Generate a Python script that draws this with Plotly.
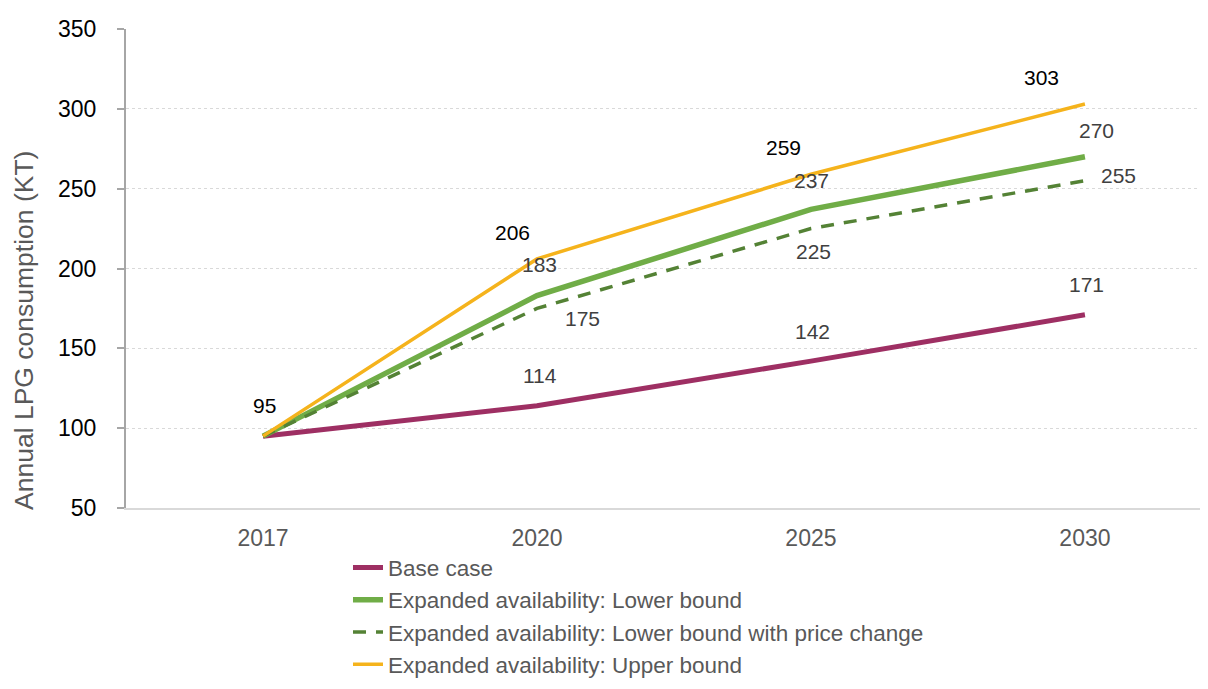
import plotly.graph_objects as go

years = ["2017", "2020", "2025", "2030"]
base_case = [95, 114, 142, 171]
lower_bound = [95, 183, 237, 270]
lower_bound_price = [95, 175, 225, 255]
upper_bound = [95, 206, 259, 303]

series_names = [
    "Base case",
    "Expanded availability: Lower bound",
    "Expanded availability: Lower bound with price change",
    "Expanded availability: Upper bound",
]

# style per series (colour, width, dash, label colour, label offsets in px per point)
styles = [
    dict(color="#9E2F63", width=5, dash="solid", lc="#404040",
         offs=[None, (3, -30), (2, -30), (2, -30)]),
    dict(color="#70AD47", width=5.5, dash="solid", lc="#404040",
         offs=[None, (3, -31), (1, -29), (12, -26)]),
    dict(color="#548235", width=3.5, dash="13px,10px", lc="#404040",
         offs=[None, (46, 10), (3, 23), (34, -5)]),
    dict(color="#F5B31C", width=3.5, dash="solid", lc="#000000",
         offs=[(2, -31), (-24, -26), (-27, -27), (-43, -27)]),
]
values = [base_case, lower_bound, lower_bound_price, upper_bound]

FONT = "Liberation Sans, Arial, sans-serif"
fig = go.Figure()
annotations = []
for i, (name, vals, st) in enumerate(zip(series_names, values, styles)):
    fig.add_trace(go.Scatter(
        x=years, y=vals, name=name, mode="lines",
        line=dict(color=st["color"], width=st["width"], dash=st["dash"]),
    ))
    for j, v in enumerate(vals):
        off = st["offs"][j]
        if off is None:
            continue
        annotations.append(dict(
            x=j, y=v, xref="x", yref="y", text=str(v), showarrow=False,
            xshift=off[0], yshift=-off[1],
            font=dict(family=FONT, size=21, color=st["lc"]),
        ))

annotations.append(dict(
    x=-0.095, y=0.3716, xref="paper", yref="paper",
    text="Annual LPG consumption (KT)", textangle=-90, showarrow=False,
    font=dict(family=FONT, size=26.5, color="#595959"),
    xanchor="center", yanchor="middle",
))

fig.update_layout(
    width=1192, height=673,
    margin=dict(l=118, r=0, t=21, b=173, autoexpand=False),
    paper_bgcolor="white", plot_bgcolor="white",
    font=dict(family=FONT),
    annotations=annotations,
    legend=dict(
        x=0.2067, y=-0.080, xanchor="left", yanchor="top",
        font=dict(family=FONT, size=22.5, color="#595959"),
        tracegroupgap=0,
        bgcolor="rgba(0,0,0,0)",
    ),
    showlegend=True,
)
fig.update_xaxes(
    type="category", range=[-0.5, 3.42], automargin=False,
    showline=True, linecolor="#D9D9D9", linewidth=2,
    showgrid=False, ticks="", zeroline=False,
    tickfont=dict(family=FONT, size=23, color="#595959"),
    ticklabelstandoff=8,
)
fig.update_yaxes(
    range=[50, 350], tickvals=[50, 100, 150, 200, 250, 300, 350], automargin=False,
    showline=True, linecolor="#A6A6A6", linewidth=2,
    ticks="outside", ticklen=7, tickcolor="#A6A6A6", tickwidth=2,
    showgrid=True, gridcolor="#D9D9D9", griddash="dot", gridwidth=1,
    zeroline=False,
    tickfont=dict(family=FONT, size=23, color="#000000"),
    ticklabelstandoff=16,
)

fig.write_html("out.html")
